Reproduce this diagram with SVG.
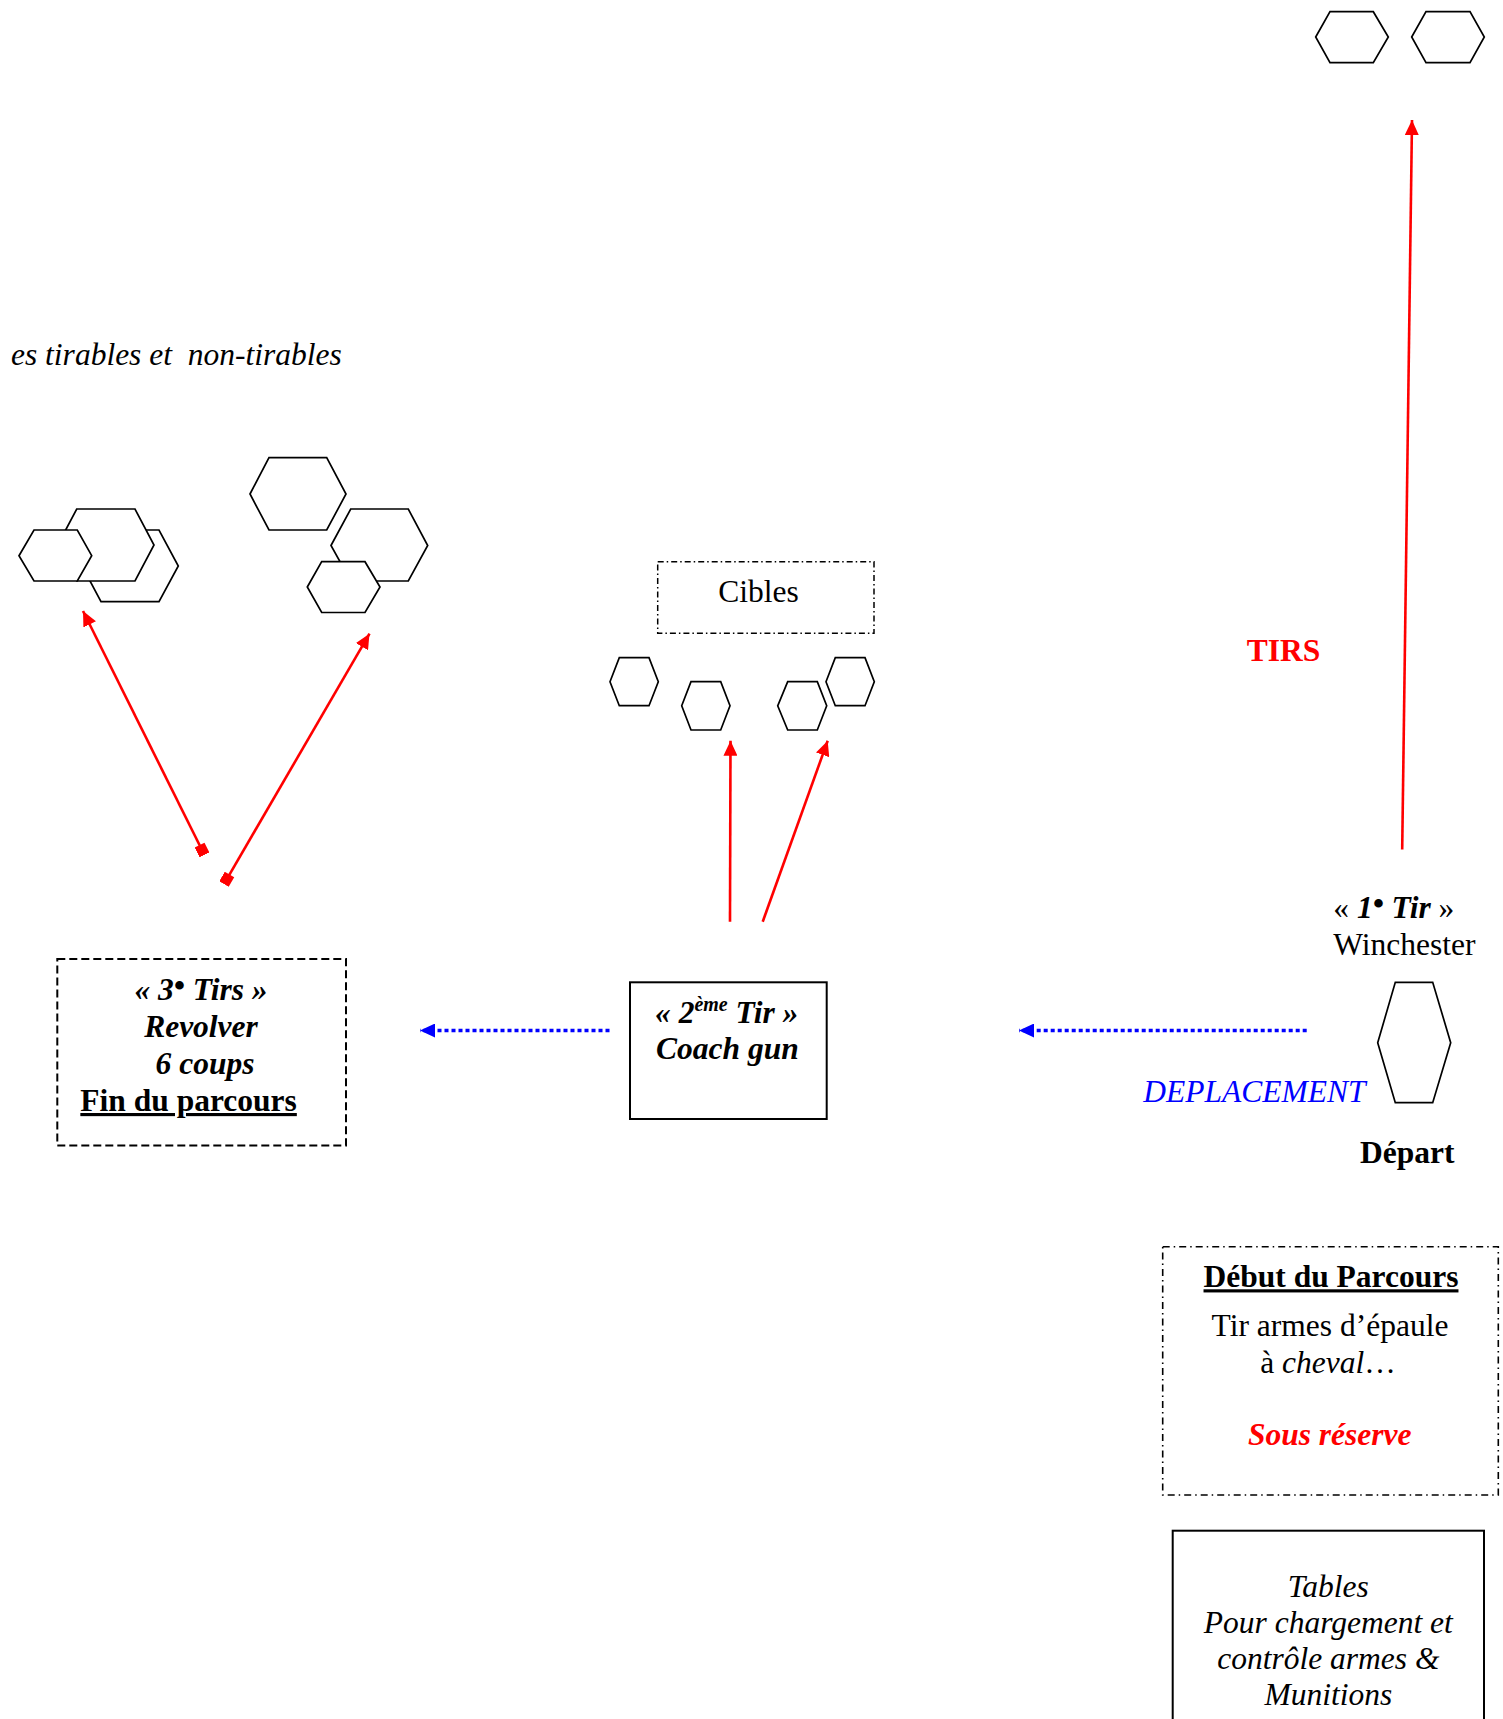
<svg xmlns="http://www.w3.org/2000/svg" width="1503" height="1719" viewBox="0 0 1503 1719">
<style>
.hex{fill:#fff;stroke:#000;stroke-width:1.7;stroke-linejoin:miter}
.t{font-family:"Liberation Serif","Times New Roman",serif;font-size:31.5px;fill:#000}
.bi{font-weight:bold;font-style:italic}
.b{font-weight:bold}
.i{font-style:italic}
.red{stroke:#ff0000;stroke-width:2.6;fill:none}
.blue{stroke:#0000ff;stroke-width:3.6;fill:none;stroke-dasharray:4 3}
</style>
<defs>
<marker id="ar" markerUnits="userSpaceOnUse" markerWidth="16" markerHeight="14" refX="15" refY="7" orient="auto"><path d="M0,0 L15,7 L0,14 z" fill="#ff0000"/></marker>
<marker id="sq" markerUnits="userSpaceOnUse" markerWidth="13" markerHeight="13" refX="5.5" refY="5.5" orient="auto"><path d="M0,0 h11 v11 h-11 z" fill="#ff0000"/></marker>
<marker id="ab" markerUnits="userSpaceOnUse" markerWidth="16" markerHeight="14" refX="15" refY="7" orient="auto"><path d="M0,0 L15,7 L0,14 z" fill="#0000ff"/></marker>
</defs>

<g id="top-targets">
<polygon class="hex" points="1315.7,37 1330,11.7 1373.3,11.7 1388.3,37 1373.3,62.7 1330,62.7"/>
<polygon class="hex" points="1411.7,37 1426,11.7 1470,11.7 1484.3,37 1470,62.7 1426,62.7"/>
</g>

<g id="caption-tirables">
<text class="t i" x="11" y="365" font-size="28.5" xml:space="preserve" style="white-space:pre">es tirables et  non-tirables</text>
</g>

<g id="left-targets">
<polygon class="hex" points="82,566 101,530 159,530 178.3,566 159,601.7 101,601.7"/>
<polygon class="hex" points="57.7,545 76.7,509 135,509 154,545 135,581 76.7,581"/>
<polygon class="hex" points="19,555.7 34,530 77.3,530 91.7,555.7 77.3,581 34,581"/>
</g>

<g id="right-targets">
<polygon class="hex" points="250,494 269,457.7 326.7,457.7 346,494 326.7,530 269,530"/>
<polygon class="hex" points="331,545.5 350.7,509 408.3,509 427.7,545.5 408.3,581 350.7,581"/>
<polygon class="hex" points="307.3,587 321.7,561.7 365,561.7 380,587 365,612.5 321.7,612.5"/>
</g>

<g id="cibles">
<rect x="657.7" y="561.7" width="216.3" height="71.6" fill="none" stroke="#000" stroke-width="1.5" stroke-dasharray="6 3 1.5 3"/>
<text class="t" x="758.5" y="601.7" text-anchor="middle">Cibles</text>
</g>

<g id="middle-targets">
<polygon class="hex" points="610,681.7 619.3,657.7 649,657.7 658.3,681.7 649,705.7 619.3,705.7"/>
<polygon class="hex" points="681.7,705.8 691,681.7 720.7,681.7 730,705.8 720.7,730 691,730"/>
<polygon class="hex" points="777.7,705.8 787.7,681.7 817.3,681.7 826.7,705.8 817.3,730 787.7,730"/>
<polygon class="hex" points="826,681.7 835.3,657.7 865,657.7 874.3,681.7 865,705.7 835.3,705.7"/>
</g>

<g id="tirs-label">
<text class="t b" x="1246.7" y="661" style="fill:#ff0000">TIRS</text>
</g>

<g id="tir1">
<text class="t" x="1333.3" y="918.3">« <tspan class="bi">1<tspan dy="-4">•</tspan><tspan dy="4"> Tir</tspan></tspan> »</text>
<text class="t" x="1333.3" y="955">Winchester</text>
</g>

<g id="depart">
<polygon class="hex" points="1377.7,1042.7 1395.3,982.3 1432.7,982.3 1450.7,1042.7 1432.7,1102.7 1395.3,1102.7"/>
<text class="t b" x="1360" y="1163.3">Départ</text>
</g>

<g id="deplacement">
<text class="t i" x="1143.3" y="1101.7" style="fill:#0000ff">DEPLACEMENT</text>
</g>

<g id="tir2">
<rect x="630" y="982.3" width="196.7" height="136.7" fill="none" stroke="#000" stroke-width="2"/>
<text class="t bi" x="655" y="1023.3">« 2<tspan font-size="20" dy="-12">ème</tspan><tspan dy="12"> Tir »</tspan></text>
<text class="t bi" x="656" y="1059.3">Coach gun</text>
</g>

<g id="tir3">
<rect x="57.3" y="959" width="288.7" height="186.6" fill="none" stroke="#000" stroke-width="2" stroke-dasharray="8 4"/>
<text class="t bi" x="201" y="1000" text-anchor="middle">« 3<tspan dy="-4">•</tspan><tspan dy="4"> Tirs »</tspan></text>
<text class="t bi" x="201" y="1037" text-anchor="middle">Revolver</text>
<text class="t bi" x="205" y="1074" text-anchor="middle">6 coups</text>
<text class="t b" x="188.6" y="1111" text-anchor="middle" text-decoration="underline">Fin du parcours</text>
</g>

<g id="debut">
<rect x="1162.7" y="1246.7" width="335.6" height="248.3" fill="none" stroke="#000" stroke-width="1.6" stroke-dasharray="7 4 1.5 4"/>
<text class="t b" x="1331" y="1287.3" text-anchor="middle" text-decoration="underline">Début du Parcours</text>
<text class="t" x="1330" y="1336" text-anchor="middle">Tir armes d’épaule</text>
<text class="t" x="1328" y="1372.7" text-anchor="middle">à <tspan class="i">cheval</tspan>…</text>
<text class="t bi" x="1329.7" y="1445" text-anchor="middle" style="fill:#ff0000">Sous réserve</text>
</g>

<g id="tables">
<rect x="1172.7" y="1530.7" width="311.3" height="200" fill="none" stroke="#000" stroke-width="2"/>
<text class="t i" x="1328.3" y="1597.3" text-anchor="middle">Tables</text>
<text class="t i" x="1328.3" y="1633.3" text-anchor="middle">Pour chargement et</text>
<text class="t i" x="1328.3" y="1669.3" text-anchor="middle">contrôle armes &amp;</text>
<text class="t i" x="1328.3" y="1705.3" text-anchor="middle">Munitions</text>
</g>

<g id="connectors">
<line class="red" x1="1402.2" y1="849.6" x2="1412" y2="120" marker-end="url(#ar)"/>
<line class="red" x1="730" y1="921.7" x2="730.5" y2="740.7" marker-end="url(#ar)"/>
<line class="red" x1="762.7" y1="921.7" x2="827.7" y2="740.7" marker-end="url(#ar)"/>
<line class="red" x1="202" y1="850" x2="83" y2="611" marker-start="url(#sq)" marker-end="url(#ar)"/>
<line class="red" x1="226.7" y1="879.3" x2="369.5" y2="633.7" marker-start="url(#sq)" marker-end="url(#ar)"/>
<line class="blue" x1="609.5" y1="1030.5" x2="420" y2="1030.5" marker-end="url(#ab)"/>
<line class="blue" x1="1306.7" y1="1030.5" x2="1019" y2="1030.5" marker-end="url(#ab)"/>
</g>
</svg>
